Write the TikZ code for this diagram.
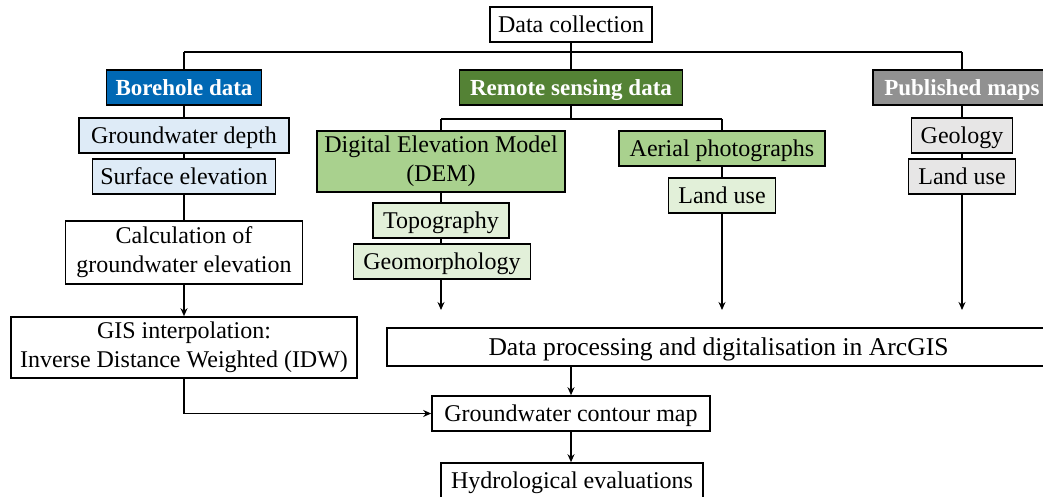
\documentclass[tikz,border=0pt]{standalone}
\usepackage{fontspec}
\setmainfont{Liberation Serif}
\usetikzlibrary{arrows.meta}
\definecolor{bhblue}{RGB}{0,104,180}
\definecolor{rsgreen}{RGB}{84,130,53}
\definecolor{pmgray}{RGB}{145,145,145}
\definecolor{ltblue}{RGB}{222,235,247}
\definecolor{midgreen}{RGB}{169,209,142}
\definecolor{ltgreen}{RGB}{226,240,217}
\definecolor{ltgray}{RGB}{231,230,230}
\tikzset{
  box/.style={draw=black, line width=0.8pt, inner sep=0pt, align=center,
    font=\fontsize{12}{14.5}\selectfont},
  one/.style={box, text height=9.5pt, text depth=1.5pt},
  head/.style={one, text=white, font=\fontsize{11.5}{14.5}\selectfont\bfseries},
  conn/.style={line width=0.7pt},
  arr/.style={line width=0.7pt, -{Stealth[length=4pt,width=3.5pt]}},
}
\begin{document}
\begin{tikzpicture}[x=0.5pt,y=-0.5pt]
\useasboundingbox (0,0) rectangle (1043,497);
\clip (0,0) rectangle (1043,497);
% top
\node[one, minimum width=81pt, minimum height=17.5pt] (dc) at (571,24.5) {Data collection};
\node[head, fill=bhblue, minimum width=77.5pt, minimum height=17.5pt] (bh) at (184,87.5) {Borehole data};
\node[head, fill=rsgreen, minimum width=111.5pt, minimum height=17.5pt] (rs) at (571,87.5) {Remote sensing data};
\node[head, fill=pmgray, minimum width=89pt, minimum height=17.5pt] (pm) at (962,87.5) {Published maps};
% borehole column
\node[one, fill=ltblue, minimum width=105pt, minimum height=17.5pt] (gwd) at (184,135.5) {Groundwater depth};
\node[one, fill=ltblue, minimum width=91.5pt, minimum height=17.5pt] (se) at (184,176.5) {Surface elevation};
\node[box, minimum width=118.5pt, minimum height=31.5pt] (calc) at (184,252.5) {Calculation of\\groundwater elevation};
\node[box, minimum width=173pt, minimum height=30.5pt] (gis) at (184,347.5) {GIS interpolation:\\Inverse Distance Weighted (IDW)};
% remote sensing
\node[box, fill=midgreen, minimum width=124pt, minimum height=30.5pt] (dem) at (441,161.5) {Digital Elevation Model\\(DEM)};
\node[one, fill=ltgreen, minimum width=68pt, minimum height=17.5pt] (topo) at (441,220.5) {Topography};
\node[one, fill=ltgreen, minimum width=88.5pt, minimum height=17.5pt] (geo) at (442,261.5) {Geomorphology};
\node[one, fill=midgreen, minimum width=103pt, minimum height=17.5pt] (ap) at (722,148.5) {Aerial photographs};
\node[one, fill=ltgreen, minimum width=53.5pt, minimum height=17.5pt] (lu1) at (722,195.5) {Land use};
% published maps
\node[one, fill=ltgray, minimum width=50.5pt, minimum height=17.5pt] (geol) at (962,135.5) {Geology};
\node[one, fill=ltgray, minimum width=53.5pt, minimum height=17.5pt] (lu2) at (962,176.5) {Land use};
% bottom
\node[one, minimum width=331.5pt, minimum height=19pt, font=\fontsize{12.8}{15}\selectfont] (dp) at (718.5,347) {Data processing and digitalisation in ArcGIS};
\node[one, minimum width=139pt, minimum height=17.5pt] (gcm) at (571,413.5) {Groundwater contour map};
\node[one, minimum width=131pt, minimum height=17.5pt] (hyd) at (572,480.5) {Hydrological evaluations};
% coordinates
\coordinate (t0) at (571,52);
\coordinate (tl) at (184,52);
\coordinate (tr) at (962,52);
\coordinate (r0) at (571,119);
\coordinate (rl) at (441,119);
\coordinate (rr) at (722,119);
\coordinate (e1) at (441,310);
\coordinate (e2) at (722,310);
\coordinate (e3) at (962,310);
% connectors
\draw[conn] (dc.south) -- (t0);
\draw[conn] (tl) -- (tr);
\draw[conn] (tl) -- (bh.north);
\draw[conn] (t0) -- (rs.north);
\draw[conn] (tr) -- (pm.north);
\draw[conn] (bh.south) -- (gwd.north);
\draw[conn] (gwd.south) -- (se.north);
\draw[conn] (se.south) -- (calc.north);
\draw[arr] (calc.south) -- (gis.north);
\draw[conn] (rs.south) -- (r0);
\draw[conn] (rl) -- (rr);
\draw[conn] (rl) -- (dem.north);
\draw[conn] (rr) -- (ap.north);
\draw[conn] (dem.south) -- (topo.north);
\draw[conn] (topo.south) -- (geo.north -| topo.south);
\draw[arr] (geo.south -| topo.south) -- (e1);
\draw[conn] (ap.south) -- (lu1.north);
\draw[arr] (lu1.south) -- (e2);
\draw[conn] (pm.south) -- (geol.north);
\draw[conn] (geol.south) -- (lu2.north);
\draw[arr] (lu2.south) -- (e3);
\draw[arr] (dp.south -| gcm.north) -- (gcm.north);
\draw[arr] (gis.south) |- (gcm.west);
\draw[arr] (gcm.south) -- (hyd.north -| gcm.south);
\end{tikzpicture}
\end{document}
